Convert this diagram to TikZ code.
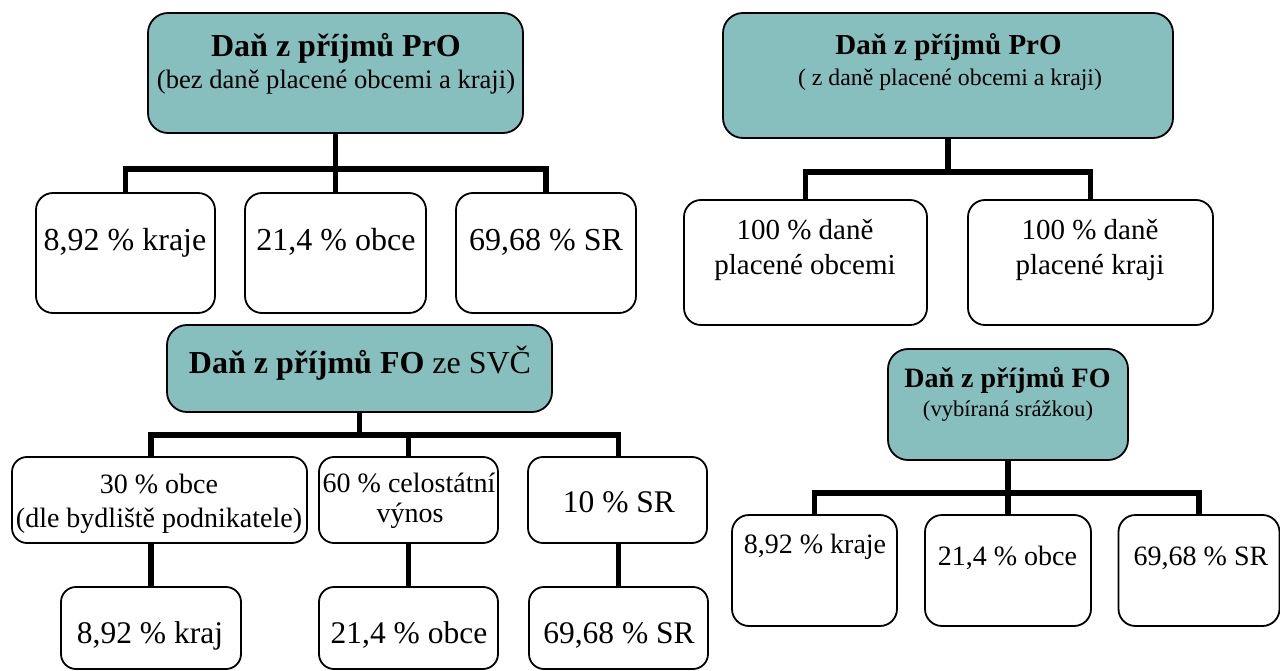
\documentclass[tikz,border=0pt]{standalone}
\usepackage{fontspec}
\setmainfont{Liberation Serif}
\definecolor{tealfill}{RGB}{135,190,190}
\tikzset{
  box/.style={draw=black, line width=1.8pt, fill=white, rounded corners=17pt, inner sep=0pt},
  rootbox/.style={box, fill=tealfill, rounded corners=20pt},
  conn/.style={line width=5.5pt, draw=black},
  lbl/.style={anchor=base, inner sep=0pt},
}
\newcommand{\fs}[1]{\fontsize{#1}{#1}\selectfont}
\begin{document}
\begin{tikzpicture}[x=1pt,y=-1pt]
\useasboundingbox (0,0) rectangle (1280,671);

% ---------- Tree 1 (top left) ----------
\node[rootbox, minimum width=375pt, minimum height=120pt] (A) at (335.5,73) {};
\node[box, minimum width=179pt, minimum height=120pt] (B1) at (125.5,253) {};
\node[box, minimum width=181pt, minimum height=120pt] (B2) at (335.5,253) {};
\node[box, minimum width=180pt, minimum height=120pt] (B3) at (546,253) {};
\coordinate (jA) at (335.5,169);
\draw[conn] (A.south) -- (jA);
\draw[conn] (B1.north) |- (jA) -| (B3.north);
\draw[conn] (jA) -- (B2.north);
\node[lbl] (tA1) at (336,57) {\fs{32}\bfseries Daň z příjmů PrO};
\node[lbl] (tA2) at (336,89) {\fs{26.6}(bez daně placené obcemi a kraji)};
\node[lbl] (tB1) at (125,251) {\fs{32}8,92 \% kraje};
\node[lbl] (tB2) at (336,251) {\fs{32}21,4 \% obce};
\node[lbl] (tB3) at (546,251) {\fs{32}69,68 \% SR};

% ---------- Tree 2 (top right) ----------
\node[rootbox, minimum width=450pt, minimum height=125pt] (C) at (948,75.5) {};
\node[box, minimum width=243pt, minimum height=125pt] (D1) at (805.5,262.5) {};
\node[box, minimum width=245pt, minimum height=125pt] (D2) at (1090.5,262.5) {};
\coordinate (jC) at (948,172);
\draw[conn] (C.south) -- (jC);
\draw[conn] (D1.north) |- (jC) -| (D2.north);
\node[lbl] (tC1) at (948.5,55) {\fs{29}\bfseries Daň z příjmů PrO};
\node[lbl] (tC2) at (950,86) {\fs{23.8}( z daně placené obcemi a kraji)};
\node[lbl] (tD1a) at (805,240) {\fs{29}100 \% daně};
\node[lbl] (tD1b) at (805,275) {\fs{29}placené obcemi};
\node[lbl] (tD2a) at (1090,240) {\fs{29}100 \% daně};
\node[lbl] (tD2b) at (1090,275) {\fs{29}placené kraji};

% ---------- Tree 3 (bottom left) ----------
\node[rootbox, minimum width=385pt, minimum height=87pt] (E) at (359.5,368.5) {};
\node[box, rounded corners=15pt, minimum width=295pt, minimum height=86pt] (F1) at (159.5,500) {};
\node[box, rounded corners=15pt, minimum width=179pt, minimum height=86pt] (F2) at (408.5,500) {};
\node[box, rounded corners=15pt, minimum width=179pt, minimum height=86pt] (F3) at (617.5,500) {};
\node[box, rounded corners=15pt, minimum width=180pt, minimum height=82pt] (G1) at (151,628) {};
\node[box, rounded corners=15pt, minimum width=179pt, minimum height=82pt] (G2) at (408.5,628) {};
\node[box, rounded corners=15pt, minimum width=179pt, minimum height=82pt] (G3) at (618.5,628) {};
\coordinate (jE) at (359.5,435);
\draw[conn] (E.south) -- (jE);
\draw[conn] (F1.north -| G1.north) |- (jE) -| (F3.north -| G3.north);
\draw[conn] (jE -| F2.north) -- (F2.north);
\draw[conn] (F1.south -| G1.north) -- (G1.north);
\draw[conn] (F2.south) -- (G2.north);
\draw[conn] (F3.south -| G3.north) -- (G3.north);
\node[lbl] (tE) at (360,373) {\fs{32}\textbf{Daň z příjmů FO} ze SVČ};
\node[lbl] (tF1a) at (159,493) {\fs{28}30 \% obce};
\node[lbl] (tF1b) at (159,527) {\fs{28}(dle bydliště podnikatele)};
\node[lbl] (tF2a) at (409,492) {\fs{28}60 \% celostátní};
\node[lbl] (tF2b) at (410,522) {\fs{28}výnos};
\node[lbl] (tF3) at (619,512) {\fs{31.5}10 \% SR};
\node[lbl] (tG1) at (150,643) {\fs{31.5}8,92 \% kraj};
\node[lbl] (tG2) at (409,643) {\fs{31.5}21,4 \% obce};
\node[lbl] (tG3) at (619,643) {\fs{31.5}69,68 \% SR};

% ---------- Tree 4 (bottom right) ----------
\node[rootbox, minimum width=240pt, minimum height=111pt] (H) at (1008,404.5) {};
\node[box, minimum width=165pt, minimum height=111pt] (I1) at (814.5,570.5) {};
\node[box, minimum width=166pt, minimum height=111pt] (I2) at (1008,570.5) {};
\node[box, minimum width=161pt, minimum height=111pt] (I3) at (1199,570.5) {};
\coordinate (jH) at (1008,493);
\draw[conn] (H.south) -- (jH);
\draw[conn] (I1.north) |- (jH) -| (I3.north);
\draw[conn] (jH) -- (I2.north);
\node[lbl] (tH1) at (1007.5,387) {\fs{28}\bfseries Daň z příjmů FO};
\node[lbl] (tH2) at (1008,416) {\fs{22.6}(vybíraná srážkou)};
\node[lbl] (tI1) at (815,553) {\fs{28}8,92 \% kraje};
\node[lbl] (tI2) at (1007.5,565) {\fs{28}21,4 \% obce};
\node[lbl] (tI3) at (1201,565) {\fs{28}69,68 \% SR};
\end{tikzpicture}
\end{document}
